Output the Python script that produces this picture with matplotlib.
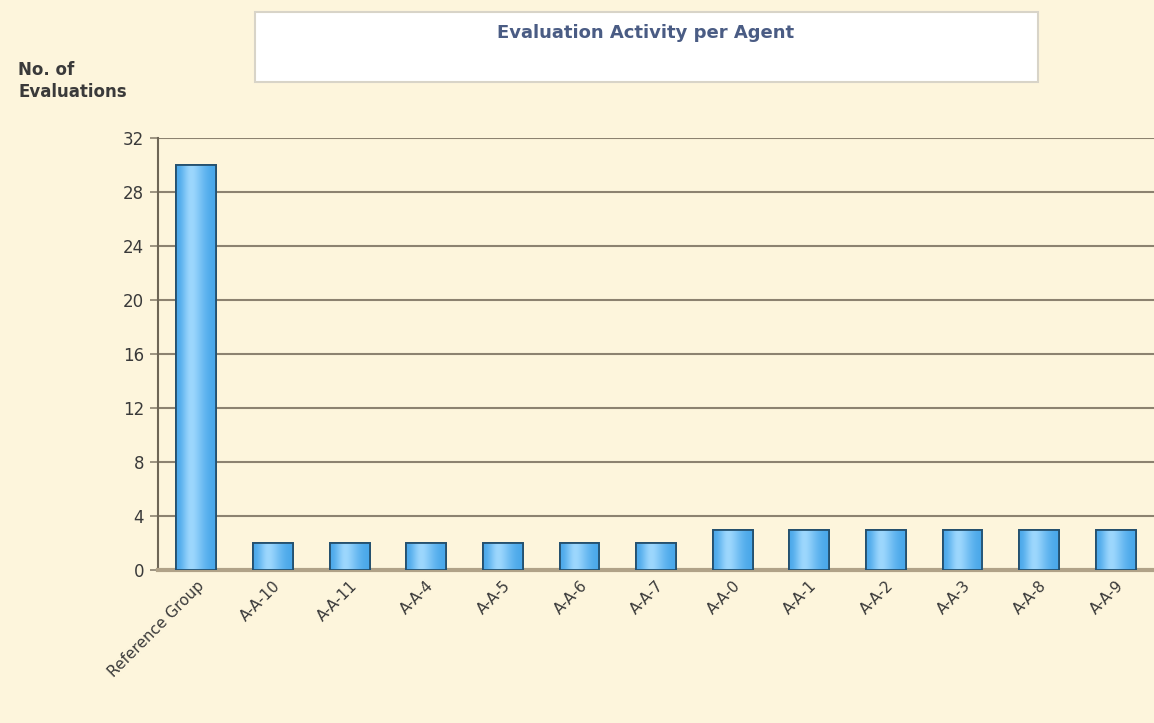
import matplotlib.pyplot as plt
import numpy as np
from matplotlib.patches import FancyBboxPatch, Rectangle

# Data
agents = ["Reference Group", "A-A-10", "A-A-11", "A-A-4", "A-A-5", "A-A-6", "A-A-7",
          "A-A-0", "A-A-1", "A-A-2", "A-A-3", "A-A-8", "A-A-9"]
evaluations = [30, 2, 2, 2, 2, 2, 2, 3, 3, 3, 3, 3, 3]
y_ticks = [0, 4, 8, 12, 16, 20, 24, 28, 32]

BG = "#fdf5dc"
GRID = "#8c8270"

fig = plt.figure(figsize=(11.54, 7.23), dpi=100)
fig.patch.set_facecolor(BG)

ax = fig.add_axes([0.137, 0.2116, 0.863, 0.597])
ax.set_facecolor(BG)

x = np.arange(len(agents))
bars = ax.bar(x, evaluations, width=0.52, color="#5cb6f2", edgecolor="#24506e",
              linewidth=1.3, zorder=3)

# light gradient across each bar
grad = np.array([[0.0, 0.35, 0.7, 0.55, 0.3, 0.1, 0.0]])
for b in bars:
    im = ax.imshow(grad, cmap=plt.matplotlib.colors.LinearSegmentedColormap.from_list(
        "g", ["#4aa8ea", "#a6dcff"]),
        extent=[b.get_x(), b.get_x() + b.get_width(), 0, b.get_height()],
        aspect="auto", zorder=3.5, interpolation="bicubic")
    im.set_clip_path(b)
    ax.add_patch(Rectangle((b.get_x(), 0), b.get_width(), b.get_height(),
                           fill=False, edgecolor="#24506e", linewidth=1.3, zorder=4))

ax.set_xlim(-0.5, len(agents) - 0.5)
ax.set_ylim(0, 32)
ax.set_yticks(y_ticks)
ax.set_yticklabels([str(t) for t in y_ticks], fontsize=12, color="#3a3a3a")
ax.yaxis.grid(True, color=GRID, linewidth=1.5, zorder=1)
ax.tick_params(axis="y", length=6, color=GRID, width=1.2, pad=4)
ax.tick_params(axis="x", length=0, pad=6)
ax.set_xticks(x)
ax.set_xticklabels(agents, rotation=45, ha="right", rotation_mode="anchor",
                   fontsize=11, color="#3a3a3a")

for s in ["top", "right"]:
    ax.spines[s].set_visible(False)
ax.spines["left"].set_color("#6e6656")
ax.spines["left"].set_linewidth(1.5)
ax.spines["bottom"].set_color("#b0a288")
ax.spines["bottom"].set_linewidth(3)

# Title box
box = FancyBboxPatch((255 / 1154, 1 - 82 / 723), (1038 - 255) / 1154, 70 / 723,
                     boxstyle="square,pad=0", transform=fig.transFigure,
                     facecolor="white", edgecolor="#d8d4c8", linewidth=1.5)
fig.patches.append(box)
fig.text(646 / 1154, 1 - 33 / 723, "Evaluation Activity per Agent", ha="center",
         va="center", fontsize=13, fontweight="bold", color="#4a5c84")

# Y axis label
fig.text(18 / 1154, 1 - 81 / 723, "No. of\nEvaluations", ha="left", va="center",
         fontsize=12, fontweight="bold", color="#3a3a3a", linespacing=1.3)

plt.savefig("out.png", dpi=100, facecolor=BG)
